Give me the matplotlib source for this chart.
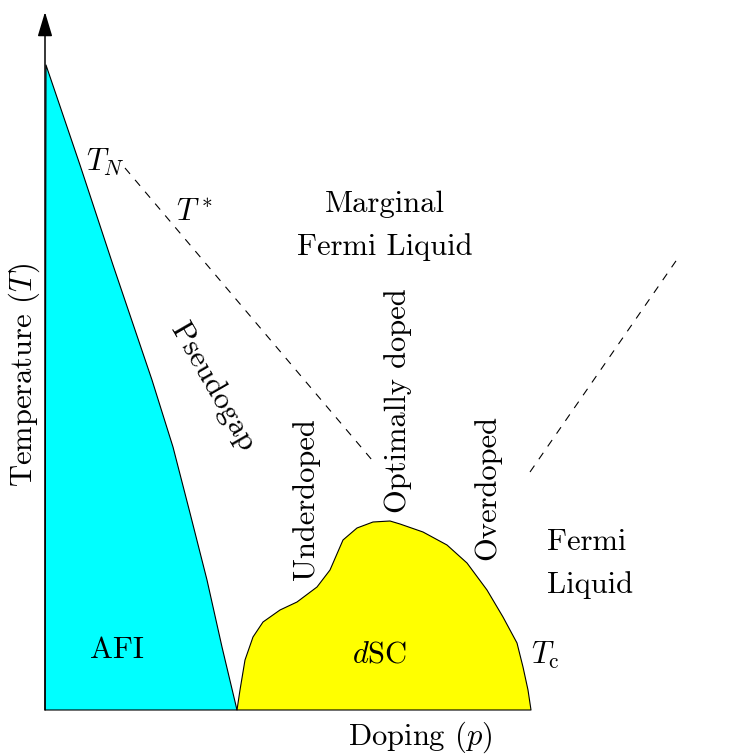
import numpy as np
import matplotlib
matplotlib.use("Agg")
import matplotlib.pyplot as plt

plt.rcParams['font.family'] = 'serif'
plt.rcParams['font.serif'] = ['cmr10']
plt.rcParams['mathtext.fontset'] = 'cm'
plt.rcParams['axes.formatter.use_mathtext'] = True

# schematic phase diagram, arbitrary units (doping p, temperature T)
afi_p = [0.01, 0.35, 0.68, 1.07, 1.28, 1.45, 1.62, 1.77, 1.92]
afi_T = [6.45, 5.45, 4.45, 3.30, 2.63, 1.97, 1.30, 0.63, 0.00]

dsc_p = [1.92, 1.95, 2.00, 2.08, 2.18, 2.35, 2.52, 2.72, 2.85, 2.98, 3.12, 3.28,
         3.45, 3.55, 3.78, 4.02, 4.22, 4.42, 4.58, 4.72, 4.78, 4.83, 4.86]
dsc_T = [0.00, 0.20, 0.50, 0.73, 0.88, 1.00, 1.08, 1.23, 1.40, 1.70, 1.82, 1.88,
         1.89, 1.86, 1.78, 1.65, 1.47, 1.20, 0.93, 0.67, 0.43, 0.20, 0.00]

tstar_p = [0.80, 3.27]
tstar_T = [5.42, 2.50]

fl_p = [4.85, 6.33]
fl_T = [2.38, 4.52]

P_MAX = 6.92
T_MAX = 6.98

fig = plt.figure(figsize=(7.36, 7.55), dpi=100)
ax = fig.add_axes([0, 0, 1, 1])
ax.set_xlim(-0.45, 6.91)
ax.set_ylim(-0.45, 7.10)
ax.axis('off')

# regions
ax.fill([0] + afi_p, [0] + afi_T, facecolor='#00ffff', edgecolor='black',
        linewidth=0.8, joinstyle='round')
ax.fill(dsc_p, dsc_T, facecolor='#ffff00', edgecolor='black',
        linewidth=0.8, joinstyle='round')

# crossover lines
ax.plot(tstar_p, tstar_T, color='black', linewidth=0.8, linestyle=(0, (7, 7)))
ax.plot(fl_p, fl_T, color='black', linewidth=0.8, linestyle=(0, (7, 7)))

# axes with arrows
arrow = dict(arrowstyle='-|>,head_length=1.5,head_width=0.45', color='black',
             linewidth=1.1, mutation_scale=10, shrinkA=0, shrinkB=0)
ax.annotate('', xy=(P_MAX, 0), xytext=(0, 0), arrowprops=arrow)
ax.annotate('', xy=(0, T_MAX), xytext=(0, 0), arrowprops=arrow)

fs = 22
ax.text(3.75, -0.27, 'Doping $(p)$', fontsize=fs, ha='center', va='center')
ax.text(-0.21, 3.35, 'Temperature $(T)$', fontsize=fs, ha='center', va='center', rotation=90)

ax.text(0.60, 5.48, '$T_N$', fontsize=fs, ha='center', va='center')
ax.text(1.49, 4.97, '$T^*$', fontsize=fs, ha='center', va='center')
ax.text(3.40, 4.84, 'Marginal\nFermi Liquid', fontsize=fs, ha='center', va='center',
        multialignment='center', linespacing=1.7)
ax.text(1.68, 3.23, 'Pseudogap', fontsize=fs, ha='center', va='center', rotation=-60)
ax.text(2.61, 2.11, 'Underdoped', fontsize=fs, ha='center', va='center', rotation=90)
ax.text(3.53, 3.09, 'Optimally doped', fontsize=fs, ha='center', va='center', rotation=90)
ax.text(4.42, 2.22, 'Overdoped', fontsize=fs, ha='center', va='center', rotation=90)
ax.text(5.02, 1.46, 'Fermi\nLiquid', fontsize=fs, ha='left', va='center', linespacing=1.7)
ax.text(5.00, 0.55, r'$T_\mathrm{c}$', fontsize=fs, ha='center', va='center')
ax.text(0.72, 0.60, 'AFI', fontsize=fs, ha='center', va='center')
ax.text(3.35, 0.55, '$d$SC', fontsize=fs, ha='center', va='center')

fig.savefig('out.png', dpi=100)
